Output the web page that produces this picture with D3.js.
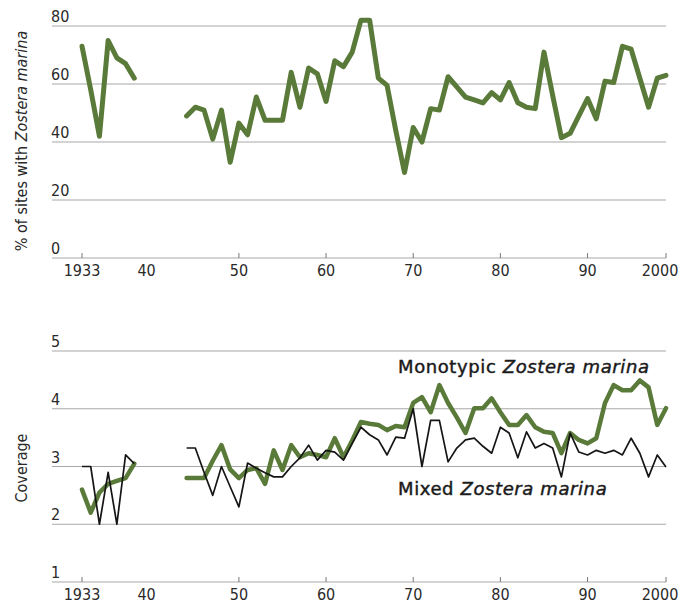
<!DOCTYPE html>
<html><head><meta charset="utf-8">
<script src="https://cdn.jsdelivr.net/npm/d3@7"></script>
<style>
html,body{margin:0;padding:0;background:#fff;}
svg{display:block;}
text{font-family:"DejaVu Sans Condensed","DejaVu Sans",sans-serif;fill:#2a2a2a;}
</style></head>
<body>
<svg id="c" width="680" height="609"></svg>
<script>
// ---- data ----
const years = [1933,1934,1935,1936,1937,1938,1939,1940,1941,1942,1943,1944,1945,1946,1947,1948,1949,
  1950,1951,1952,1953,1954,1955,1956,1957,1958,1959,1960,1961,1962,1963,1964,1965,1966,1967,1968,1969,
  1970,1971,1972,1973,1974,1975,1976,1977,1978,1979,1980,1981,1982,1983,1984,1985,1986,1987,1988,1989,
  1990,1991,1992,1993,1994,1995,1996,1997,1998,1999,2000];

const sitesPct = [73,58,42,75,69,67,62,null,null,null,null,null,49,52,51,41,51,
  33,46.5,42.5,55.5,47.5,47.5,47.5,64,52,65.5,63.5,54,68,66,71,82,82,62,59.5,44,
  29.5,45,40,51.5,51,62.5,59,55.5,54.5,53.5,57,54.5,60.5,53.5,52,51.5,71,56,41.5,43,
  49,55,48,61,60.5,73,72,62,52,62,63];

const monotypic = [2.6,2.2,2.55,2.7,2.75,2.8,3.05,null,null,null,null,null,2.8,2.8,2.8,3.1,3.37,
  2.95,2.8,2.94,2.97,2.7,3.28,2.94,3.37,3.16,3.23,3.2,3.16,3.49,3.16,3.45,3.77,3.74,3.72,3.63,3.7,
  3.68,4.1,4.2,3.94,4.41,4.1,3.85,3.58,4.01,4.01,4.18,3.94,3.72,3.72,3.89,3.68,3.6,3.58,3.23,3.58,
  3.46,3.4,3.49,4.1,4.41,4.32,4.32,4.49,4.37,3.72,4.01];

const mixed = [3.0,3.0,2.0,2.9,2.0,3.2,3.05,null,null,null,null,null,3.32,3.32,2.9,2.5,3.0,
  2.65,2.3,3.06,2.97,2.89,2.82,2.82,3.0,3.15,3.37,3.11,3.28,3.25,3.11,3.4,3.68,3.55,3.46,3.2,3.51,
  3.49,4.0,3.0,3.8,3.8,3.08,3.32,3.46,3.49,3.35,3.23,3.68,3.58,3.15,3.6,3.32,3.4,3.32,2.82,3.58,
  3.25,3.2,3.28,3.23,3.28,3.2,3.49,3.23,2.82,3.2,2.99];

const xTickYears = [1933,1940,1950,1960,1970,1980,1990,2000];
const xTickLabels = ["1933","40","50","60","70","80","90","2000"];
const topTicks = [0,20,40,60,80];
const bottomTicks = [1,2,3,4,5];

// ---- drawing ----
const svg = d3.select("#c");
const GREEN = "#5a7a3a";
const GRID = "#a8a8a8";

const x = d3.scaleLinear().domain([1933, 2000]).range([82, 666]);
// the printed axis places the decade labels one data-year to the right
const xt = d3.scaleLinear().domain([1933, 1950, 1990, 2000]).range([1933, 1951, 1991, 2000].map(x));

const yTop = d3.scaleLinear().domain([0, 80]).range([258, 26]);
const yBot = d3.scaleLinear().domain([1, 5]).range([582, 351]);

function panel(y, ticks, axisVal) {
  const g = svg.append("g");
  g.selectAll("line.grid").data(ticks).join("line")
    .attr("x1", 52).attr("x2", 666)
    .attr("y1", d => y(d)).attr("y2", d => y(d))
    .attr("stroke", GRID).attr("stroke-width", 1.2);
  g.selectAll("text.yl").data(ticks).join("text")
    .attr("x", 51).attr("y", d => y(d) - 4)
    .attr("font-size", 16).text(d => d);
  const tickYears = xTickYears.filter(d => d !== 1940);
  g.selectAll("line.xt").data(tickYears).join("line")
    .attr("x1", d => xt(d)).attr("x2", d => xt(d))
    .attr("y1", y(axisVal)).attr("y2", y(axisVal) - 5)
    .attr("stroke", "#777").attr("stroke-width", 1);
  g.selectAll("text.xl").data(xTickYears).join("text")
    .attr("x", d => xt(d) - (d === 2000 ? 6 : 0)).attr("y", y(axisVal) + 18)
    .attr("text-anchor", "middle").attr("font-size", 16)
    .text((d, i) => xTickLabels[i]);
  return g;
}

panel(yTop, topTicks, 0);
panel(yBot, bottomTicks, 1);

const lineTop = d3.line().defined(d => d[1] != null).x(d => x(d[0])).y(d => yTop(d[1]));
const lineBot = d3.line().defined(d => d[1] != null).x(d => x(d[0])).y(d => yBot(d[1]));

svg.append("path").datum(years.map((yr, i) => [yr, sitesPct[i]]))
  .attr("d", lineTop).attr("fill", "none").attr("stroke", GREEN)
  .attr("stroke-width", 5).attr("stroke-linejoin", "round").attr("stroke-linecap", "round");

svg.append("path").datum(years.map((yr, i) => [yr, monotypic[i]]))
  .attr("d", lineBot).attr("fill", "none").attr("stroke", GREEN)
  .attr("stroke-width", 4.5).attr("stroke-linejoin", "round").attr("stroke-linecap", "round");

svg.append("path").datum(years.map((yr, i) => [yr, mixed[i]]))
  .attr("d", lineBot).attr("fill", "none").attr("stroke", "#151515")
  .attr("stroke-width", 1.7).attr("stroke-linejoin", "round");

// axis titles
const t1 = svg.append("text").attr("transform", "translate(27,141) rotate(-90)")
  .attr("text-anchor", "middle").attr("font-size", 16);
t1.append("tspan").text("% of sites with ");
t1.append("tspan").attr("font-style", "italic").text("Zostera marina");

svg.append("text").attr("transform", "translate(27,468) rotate(-90)")
  .attr("text-anchor", "middle").attr("font-size", 16).text("Coverage");

// series labels
function seriesLabel(xp, yp, word) {
  const t = svg.append("text").attr("x", xp).attr("y", yp)
    .attr("font-size", 18).style("font-family", "'DejaVu Sans',sans-serif")
    .style("letter-spacing", "0.6px")
    .style("fill", "#1a1a1a").attr("stroke", "#1a1a1a").attr("stroke-width", 0.45);
  t.append("tspan").text(word + " ");
  t.append("tspan").attr("font-style", "italic").text("Zostera marina");
}
seriesLabel(398, 373, "Monotypic");
seriesLabel(398, 495, "Mixed");
</script>
</body></html>
